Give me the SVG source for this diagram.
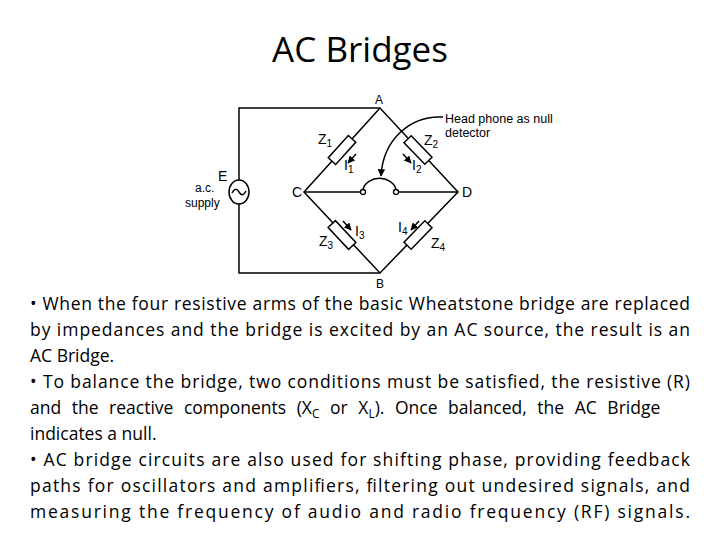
<svg xmlns="http://www.w3.org/2000/svg" width="720" height="540" viewBox="0 0 720 540">
<defs>
<style>
.w{stroke:#000;stroke-width:1.5;fill:none}
.c{font-family:"Liberation Sans",Arial,sans-serif;font-size:14px;fill:#000}
.b{font-family:"Open Sans","Liberation Sans",sans-serif;font-size:17.5px;fill:#000}
</style>
<marker id="ar" viewBox="0 0 10 10" refX="9" refY="5" markerWidth="5" markerHeight="5" orient="auto"><path d="M0,0 L10,5 L0,10 z" fill="#000"/></marker>
</defs>
<rect width="720" height="540" fill="#fff"/>
<text x="360" y="62" text-anchor="middle" style="font-family:'Open Sans','Liberation Sans',sans-serif;font-size:35px">AC Bridges</text>
<g id="connectors">
<path class="w" d="M380,108 L239,108 L239,180 M239,204 L239,273 L380,273"/>
<path class="w" d="M380,108 L304,192 L380,273 L458,192 Z"/>
<path class="w" d="M304,192 L360,192 M399,192 L458,192"/>
<path class="w" d="M363,189 A17,14 0 0 1 396,189"/>
<path class="w" d="M443,117 C410,115 383,140 381,176" marker-end="url(#ar)"/>
</g>
<g id="source"><ellipse cx="239" cy="192" rx="10" ry="12" fill="#fff" stroke="#000" stroke-width="1.5"/><path class="w" d="M232,193 Q235.5,186 239,192 Q242.5,198 246,191"/></g>
<g id="detector"><circle cx="363" cy="192" r="2.5" fill="#fff" stroke="#000" stroke-width="1.3"/><circle cx="396" cy="192" r="2.5" fill="#fff" stroke="#000" stroke-width="1.3"/></g>
<g id="Z1"><rect x="-15" y="-5" width="30" height="10" transform="translate(342,150) rotate(-48)" fill="#fff" stroke="#000" stroke-width="1.5"/><path class="w" d="M356,154 L348,163" marker-end="url(#ar)"/></g>
<g id="Z2"><rect x="-15" y="-5" width="30" height="10" transform="translate(418,150) rotate(46)" fill="#fff" stroke="#000" stroke-width="1.5"/><path class="w" d="M403,154 L411,163" marker-end="url(#ar)"/></g>
<g id="Z3"><rect x="-15" y="-5" width="30" height="10" transform="translate(342,235) rotate(47)" fill="#fff" stroke="#000" stroke-width="1.5"/><path class="w" d="M343,221 L351,230" marker-end="url(#ar)"/></g>
<g id="Z4"><rect x="-15" y="-5" width="30" height="10" transform="translate(418,235) rotate(-46)" fill="#fff" stroke="#000" stroke-width="1.5"/><path class="w" d="M419,221 L411,230" marker-end="url(#ar)"/></g>
<g class="c">
<text x="375" y="104" font-size="12">A</text><text x="376" y="288" font-size="12">B</text><text x="292" y="197">C</text><text x="462" y="197">D</text>
<text x="218" y="181">E</text><text x="195" y="192" font-size="12">a.c.</text><text x="185" y="207" font-size="12">supply</text>
<text x="318" y="144">Z<tspan font-size="10" dy="3">1</tspan></text>
<text x="424" y="145">Z<tspan font-size="10" dy="3">2</tspan></text>
<text x="344" y="170">I<tspan font-size="10" dy="3">1</tspan></text>
<text x="412" y="170">I<tspan font-size="10" dy="3">2</tspan></text>
<text x="355" y="236">I<tspan font-size="10" dy="3">3</tspan></text>
<text x="398" y="232">I<tspan font-size="10" dy="3">4</tspan></text>
<text x="319" y="246">Z<tspan font-size="10" dy="3">3</tspan></text>
<text x="431" y="248">Z<tspan font-size="10" dy="3">4</tspan></text>
<text x="445" y="123" font-size="12.5">Head phone as null</text><text x="445" y="137" font-size="12.5">detector</text>
</g>
<g class="b">
<text x="30" y="310" textLength="660" lengthAdjust="spacing">• When the four resistive arms of the basic Wheatstone bridge are replaced</text>
<text x="30" y="336" textLength="660" lengthAdjust="spacing">by impedances and the bridge is excited by an AC source, the result is an</text>
<text x="30" y="362">AC Bridge.</text>
<text x="30" y="388" textLength="660" lengthAdjust="spacing">• To balance the bridge, two conditions must be satisfied, the resistive (R)</text>
<text x="30" y="414" word-spacing="6">and the reactive components (X<tspan font-size="12" dy="4">C</tspan><tspan dy="-4"> or X</tspan><tspan font-size="12" dy="4">L</tspan><tspan dy="-4">). Once balanced, the AC Bridge</tspan></text>
<text x="30" y="440">indicates a null.</text>
<text x="30" y="466" textLength="660" lengthAdjust="spacing">• AC bridge circuits are also used for shifting phase, providing feedback</text>
<text x="30" y="492" textLength="660" lengthAdjust="spacing">paths for oscillators and amplifiers, filtering out undesired signals, and</text>
<text x="30" y="518" textLength="660" lengthAdjust="spacing">measuring the frequency of audio and radio frequency (RF) signals.</text>
</g>
</svg>
